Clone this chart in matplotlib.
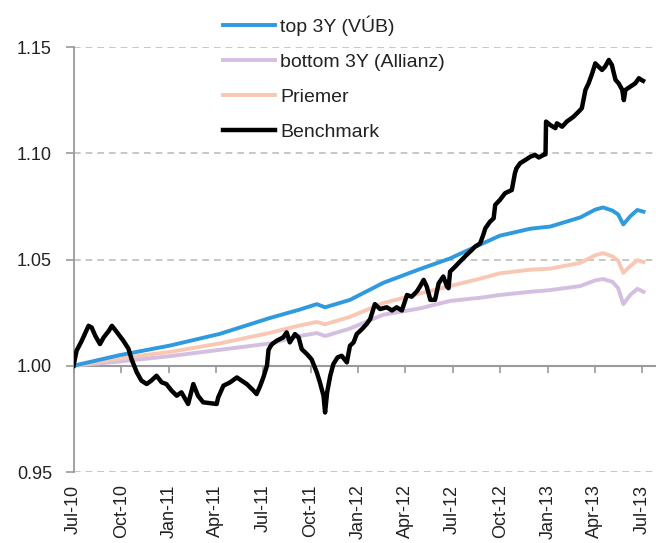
import matplotlib
matplotlib.use('Agg')
import matplotlib.pyplot as plt
import matplotlib.dates as mdates
import pandas as pd

plt.rcParams['font.family'] = ['Liberation Sans', 'DejaVu Sans']

# Benchmark
bench_dates = [
    '2010-07-01', '2010-07-07', '2010-07-17', '2010-07-30', '2010-08-05', '2010-08-12',
    '2010-08-21', '2010-08-28', '2010-09-07', '2010-09-13', '2010-09-23', '2010-10-05',
    '2010-10-15', '2010-10-21', '2010-10-31', '2010-11-09', '2010-11-19', '2010-11-28',
    '2010-12-08', '2010-12-18', '2010-12-27', '2011-01-06', '2011-01-16', '2011-01-25',
    '2011-02-07', '2011-02-17', '2011-02-26', '2011-03-08', '2011-03-21', '2011-04-03',
    '2011-04-06', '2011-04-16', '2011-04-29', '2011-05-12', '2011-05-21', '2011-05-31',
    '2011-06-13', '2011-06-19', '2011-06-26', '2011-07-02', '2011-07-09', '2011-07-12',
    '2011-07-18', '2011-07-28', '2011-08-09', '2011-08-16', '2011-08-22', '2011-09-01',
    '2011-09-08', '2011-09-14', '2011-09-24', '2011-10-03', '2011-10-13', '2011-10-19',
    '2011-10-26', '2011-10-29', '2011-11-02', '2011-11-08', '2011-11-14', '2011-11-22',
    '2011-11-30', '2011-12-10', '2011-12-16', '2011-12-23', '2011-12-29', '2012-01-08',
    '2012-01-17', '2012-01-24', '2012-01-30', '2012-02-02', '2012-02-12', '2012-02-25',
    '2012-03-06', '2012-03-15', '2012-03-25', '2012-04-04', '2012-04-13', '2012-04-23',
    '2012-04-29', '2012-05-06', '2012-05-12', '2012-05-19', '2012-05-28', '2012-06-04',
    '2012-06-13', '2012-06-20', '2012-06-23', '2012-06-26', '2012-07-06', '2012-07-15',
    '2012-07-28', '2012-08-07', '2012-08-13', '2012-08-23', '2012-08-29', '2012-09-02',
    '2012-09-11', '2012-09-18', '2012-09-21', '2012-09-30', '2012-10-10', '2012-10-23',
    '2012-10-29', '2012-11-01', '2012-11-08', '2012-11-18', '2012-11-28', '2012-12-07',
    '2012-12-14', '2012-12-23', '2012-12-27', '2012-12-28', '2013-01-05', '2013-01-15',
    '2013-01-18', '2013-01-28', '2013-02-06', '2013-02-19', '2013-03-01', '2013-03-07',
    '2013-03-10', '2013-03-14', '2013-03-20', '2013-03-27', '2013-04-02', '2013-04-08',
    '2013-04-15', '2013-04-21', '2013-04-28', '2013-05-04', '2013-05-07', '2013-05-11',
    '2013-05-17', '2013-05-24', '2013-05-27', '2013-05-30', '2013-06-09', '2013-06-18',
    '2013-06-25', '2013-06-30', '2013-07-03',
]
benchmark = [
    1.0000, 1.0071, 1.0118, 1.0188, 1.0180, 1.0141,
    1.0102, 1.0133, 1.0164, 1.0188, 1.0157, 1.0118,
    1.0080, 1.0030, 0.9969, 0.9930, 0.9914, 0.9930,
    0.9953, 0.9922, 0.9914, 0.9883, 0.9859, 0.9875,
    0.9820, 0.9914, 0.9859, 0.9828, 0.9824, 0.9820,
    0.9851, 0.9906, 0.9922, 0.9945, 0.9930, 0.9914,
    0.9883, 0.9867, 0.9906, 0.9945, 1.0000, 1.0075,
    1.0100, 1.0118, 1.0133, 1.0157, 1.0110, 1.0149,
    1.0133, 1.0078, 1.0055, 1.0030, 0.9969, 0.9922,
    0.9859, 0.9780, 0.9875, 0.9953, 1.0008, 1.0039,
    1.0047, 1.0016, 1.0094, 1.0110, 1.0149, 1.0172,
    1.0196, 1.0220, 1.0267, 1.0290, 1.0267, 1.0275,
    1.0260, 1.0275, 1.0260, 1.0333, 1.0325, 1.0350,
    1.0373, 1.0404, 1.0373, 1.0310, 1.0310, 1.0388,
    1.0420, 1.0373, 1.0365, 1.0443, 1.0467, 1.0490,
    1.0522, 1.0545, 1.0560, 1.0576, 1.0616, 1.0647,
    1.0678, 1.0694, 1.0757, 1.0780, 1.0812, 1.0827,
    1.0906, 1.0929, 1.0953, 1.0968, 1.0984, 1.0992,
    1.0980, 1.0992, 1.0995, 1.1149, 1.1133, 1.1118,
    1.1141, 1.1125, 1.1149, 1.1172, 1.1196, 1.1212,
    1.1250, 1.1298, 1.1329, 1.1376, 1.1423, 1.1408,
    1.1392, 1.1408, 1.1439, 1.1415, 1.1384, 1.1345,
    1.1329, 1.1298, 1.1250, 1.1298, 1.1314, 1.1329,
    1.1353, 1.1345, 1.1341,
]

# fondy
fund_dates = [
    '2010-07-01', '2010-09-28', '2011-01-03', '2011-04-09', '2011-07-15', '2011-09-11',
    '2011-10-13', '2011-10-29', '2011-12-16', '2012-02-18', '2012-04-29', '2012-06-26',
    '2012-08-23', '2012-09-30', '2012-11-28', '2013-01-05', '2013-03-04', '2013-04-02',
    '2013-04-17', '2013-05-05', '2013-05-16', '2013-05-26', '2013-06-09', '2013-06-22',
    '2013-07-04',
]
top_3y = [
    1.0000, 1.0050, 1.0095, 1.0150, 1.0225, 1.0265,
    1.0290, 1.0275, 1.0310, 1.0390, 1.0455, 1.0505,
    1.0570, 1.0612, 1.0645, 1.0655, 1.0698, 1.0735,
    1.0745, 1.0730, 1.0712, 1.0665, 1.0705, 1.0733,
    1.0725,
]
bottom_3y = [
    1.0000, 1.0020, 1.0045, 1.0075, 1.0105, 1.0140,
    1.0154, 1.0140, 1.0175, 1.0240, 1.0270, 1.0305,
    1.0320, 1.0333, 1.0348, 1.0356, 1.0375, 1.0402,
    1.0408, 1.0395, 1.0365, 1.0290, 1.0335, 1.0362,
    1.0348,
]
priemer = [
    1.0000, 1.0035, 1.0065, 1.0105, 1.0155, 1.0190,
    1.0206, 1.0195, 1.0230, 1.0295, 1.0340, 1.0375,
    1.0410, 1.0435, 1.0452, 1.0457, 1.0484, 1.0520,
    1.0530, 1.0515, 1.0495, 1.0437, 1.0470, 1.0497,
    1.0488,
]

y_ticks = [0.95, 1.00, 1.05, 1.10, 1.15]

color_top = '#2f9ade'
color_bottom = '#d4bfe0'
color_avg = '#f9c8b4'
color_axis = '#9a9a9a'
color_grid = '#bdbdbd'
color_text = '#222222'

bd = pd.to_datetime(bench_dates)
fd = pd.to_datetime(fund_dates)

fig = plt.figure(figsize=(6.56, 5.43), dpi=100)
ax = fig.add_axes([73.5 / 656, 1 - 472 / 543, (656 - 73.5) / 656, 425 / 543])

l_bot, = ax.plot(fd, bottom_3y, color=color_bottom, lw=2.8, label='bottom 3Y (Allianz)', zorder=3)
l_avg, = ax.plot(fd, priemer, color=color_avg, lw=2.8, label='Priemer', zorder=4)
l_top, = ax.plot(fd, top_3y, color=color_top, lw=2.8, label='top 3Y (VÚB)', zorder=5)
l_ben, = ax.plot(bd, benchmark, color='black', lw=3.2, label='Benchmark', zorder=6,
                 solid_joinstyle='round')

ax.set_ylim(0.95, 1.15)
ax.set_xlim(pd.Timestamp('2010-07-01'), pd.Timestamp('2013-07-28'))
ax.set_yticks(y_ticks)
ax.yaxis.set_major_formatter(matplotlib.ticker.FormatStrFormatter('%.2f'))
ax.grid(True, axis='y', color=color_grid, lw=1.2, linestyle=(0, (4, 3)), zorder=0)

quarters = mdates.MonthLocator(bymonth=(1, 4, 7, 10))
ax.xaxis.set_major_locator(quarters)
ax.xaxis.set_major_formatter(mdates.DateFormatter('%b-%y'))
ax.tick_params(axis='x', length=0, pad=9, labelsize=13, labelrotation=90, labelcolor=color_text)
ax.tick_params(axis='y', length=6, width=1.2, color=color_axis, direction='out',
               pad=9.5, labelsize=13, labelcolor=color_text)

for s in ['top', 'right', 'bottom']:
    ax.spines[s].set_visible(False)
ax.spines['left'].set_color(color_axis)
ax.spines['left'].set_linewidth(1.3)

# os x na urovni 1.00
sec = ax.secondary_xaxis(0.25)
sec.xaxis.set_major_locator(mdates.MonthLocator(bymonth=(1, 4, 7, 10)))
sec.tick_params(axis='x', length=5, width=1.2, color=color_axis, direction='out',
                labelbottom=False, labeltop=False)
sec.spines['bottom'].set_color(color_axis)
sec.spines['bottom'].set_linewidth(1.5)
sec.set_zorder(2)

fig.legend(handles=[l_top, l_bot, l_avg, l_ben], loc='upper left',
           bbox_to_anchor=(222.5 / 656, 1 - 15 / 543), frameon=False,
           fontsize=14, handlelength=2.7, handletextpad=0.28, labelspacing=0.9,
           borderpad=0, borderaxespad=0, labelcolor=color_text)

fig.savefig('out.png', dpi=100)
